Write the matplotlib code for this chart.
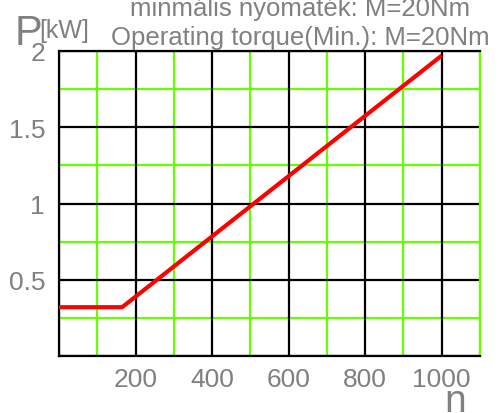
import numpy as np
import matplotlib
matplotlib.use('Agg')
import matplotlib.pyplot as plt

# power curve, n [1/min] vs P [kW]
speed = [0, 165, 1000]
power = [0.32, 0.32, 1.97]

x_major = [0, 200, 400, 600, 800, 1000]
x_labels = ['', '200', '400', '600', '800', '1000']
x_minor = [100, 300, 500, 700, 900, 1100]
y_major = [0, 0.5, 1, 1.5, 2]
y_labels = ['', '0.5', '1', '1.5', '2']
y_minor = [0.25, 0.75, 1.25, 1.75]

title_hu = 'minmális nyomaték: M=20Nm'
title_en = 'Operating torque(Min.): M=20Nm'

gray = '#808080'
green = '#66ff00'
font = ['Liberation Sans', 'DejaVu Sans']

fig = plt.figure(figsize=(4.99, 4.14), dpi=100)
ax = fig.add_axes([59 / 499, 1 - 357 / 414, 421 / 499, 305 / 414])

ax.set_xlim(0, 1100)
ax.set_ylim(0, 2)

# grid: black majors, green minors
for x in x_major:
    ax.axvline(x, color='black', lw=1.6, zorder=2)
for x in x_minor:
    ax.axvline(x, color=green, lw=1.6, zorder=1)
for y in y_major:
    ax.axhline(y, color='black', lw=1.6, zorder=2)
for y in y_minor:
    ax.axhline(y, color=green, lw=1.6, zorder=1)

ax.plot(speed, power, color='red', lw=3, zorder=3, solid_capstyle='butt')

for s in ['left', 'bottom', 'top']:
    ax.spines[s].set_color('black')
    ax.spines[s].set_linewidth(1.6)
ax.spines['right'].set_color(green)
ax.spines['right'].set_linewidth(1.6)

ax.set_xticks(x_major)
ax.set_xticklabels(x_labels)
ax.set_yticks(y_major)
ax.set_yticklabels(y_labels)
ax.tick_params(length=0, labelcolor=gray, labelsize=19)
ax.tick_params(axis='x', pad=8)
ax.tick_params(axis='y', pad=10)
for lab in ax.get_xticklabels() + ax.get_yticklabels():
    lab.set_family(font)

# titles and axis names
fig.text(300 / 499, 1 - 16 / 414, title_hu, ha='center', va='baseline',
         color=gray, fontsize=18.5, family=font)
fig.text(300 / 499, 1 - 45 / 414, title_en, ha='center', va='baseline',
         color=gray, fontsize=18.5, family=font)
fig.text(15 / 499, 1 - 45 / 414, 'P', ha='left', va='baseline',
         color=gray, fontsize=30, family=font)
fig.text(39 / 499, 1 - 38 / 414, '[kW]', ha='left', va='baseline',
         color=gray, fontsize=18, family=font)
fig.text(455 / 499, 1 - 412 / 414, 'n', ha='center', va='baseline',
         color=gray, fontsize=28, family=font)

fig.savefig('out.png', dpi=100)
